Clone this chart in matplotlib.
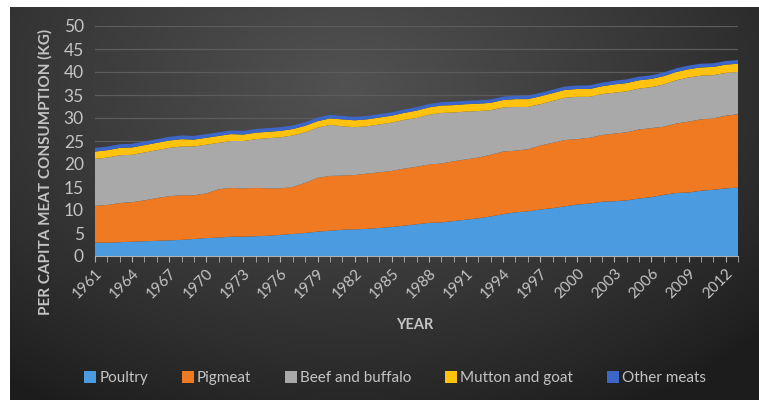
import numpy as np
import matplotlib.pyplot as plt
from matplotlib.patches import Patch

plt.rcParams['font.family'] = ['Lato', 'DejaVu Sans']

# Per capita meat consumption (kg), world, 1961-2013
years = list(range(1961, 2014))
poultry = [2.9, 2.9, 3.0, 3.1, 3.2, 3.3, 3.4, 3.5, 3.7, 3.9,
           4.0, 4.2, 4.2, 4.3, 4.4, 4.6, 4.8, 5.0, 5.3, 5.5,
           5.7, 5.8, 5.9, 6.1, 6.3, 6.6, 6.9, 7.2, 7.3, 7.6,
           7.9, 8.2, 8.6, 9.1, 9.5, 9.7, 10.1, 10.4, 10.8, 11.2,
           11.4, 11.8, 11.9, 12.1, 12.5, 12.8, 13.3, 13.7, 13.8, 14.2,
           14.4, 14.7, 14.9]
pigmeat = [8.0, 8.2, 8.5, 8.6, 8.9, 9.3, 9.6, 9.7, 9.5, 9.7,
           10.5, 10.6, 10.5, 10.5, 10.3, 10.1, 10.2, 10.9, 11.7, 11.9,
           11.8, 11.8, 12.0, 12.1, 12.2, 12.4, 12.5, 12.7, 12.8, 13.0,
           13.1, 13.2, 13.4, 13.6, 13.4, 13.5, 13.9, 14.2, 14.4, 14.2,
           14.3, 14.5, 14.7, 14.8, 15.0, 15.0, 14.8, 15.1, 15.4, 15.5,
           15.5, 15.8, 15.9]
beef = [10.2, 10.3, 10.4, 10.3, 10.4, 10.4, 10.5, 10.6, 10.6, 10.6,
        10.1, 10.2, 10.3, 10.6, 10.9, 11.1, 11.2, 11.0, 10.9, 11.1,
        10.7, 10.4, 10.3, 10.4, 10.5, 10.6, 10.6, 10.8, 11.0, 10.6,
        10.4, 10.1, 9.7, 9.6, 9.5, 9.2, 9.0, 9.1, 9.2, 9.2,
        8.9, 8.9, 8.9, 8.9, 8.9, 8.9, 9.2, 9.4, 9.6, 9.5,
        9.4, 9.3, 9.2]
mutton = [1.6, 1.6, 1.6, 1.6, 1.6, 1.6, 1.6, 1.6, 1.5, 1.5,
          1.5, 1.5, 1.4, 1.4, 1.4, 1.4, 1.4, 1.4, 1.4, 1.4,
          1.5, 1.5, 1.5, 1.5, 1.5, 1.5, 1.6, 1.6, 1.6, 1.6,
          1.6, 1.6, 1.6, 1.6, 1.7, 1.7, 1.7, 1.7, 1.7, 1.7,
          1.7, 1.7, 1.8, 1.8, 1.8, 1.8, 1.8, 1.8, 1.8, 1.8,
          1.8, 1.8, 1.8]
other = [0.8] * 20 + [0.75] * 20 + [0.8] * 13

labels = ['Poultry', 'Pigmeat', 'Beef and buffalo', 'Mutton and goat', 'Other meats']
colors = ['#4a9be0', '#f07a22', '#a9a9a9', '#ffc20e', '#3d66c9']
txt = '#c4c4c4'

fig = plt.figure(figsize=(7.59, 4.0), dpi=100)
fig.patch.set_facecolor('white')

# dark radial gradient background (white strip top and left)
bg = fig.add_axes([10 / 759, 0, 749 / 759, 393 / 400])
yy, xx = np.mgrid[0:1:200j, 0:1:380j]
r = np.sqrt(((xx - 0.45) / 0.75) ** 2 + ((yy - 0.8) / 0.95) ** 2)
v = np.clip(1 - r, 0, 1) ** 0.85
dark = np.array([0.11, 0.11, 0.11])
light = np.array([0.32, 0.32, 0.32])
img = dark + (light - dark) * v[..., None]
bg.imshow(img, extent=[0, 1, 0, 1], aspect='auto', origin='lower')
bg.axis('off')

ax = fig.add_axes([95 / 759, 1 - 256 / 400, 643 / 759, 230 / 400])
ax.patch.set_alpha(0)
ax.stackplot(years, poultry, pigmeat, beef, mutton, other,
             colors=colors, linewidth=0, zorder=2)

ax.set_xlim(1961, 2013)
ax.set_ylim(0, 50)
ax.set_yticks(range(0, 51, 5))
ax.set_xticks(years[:-1:3])
ax.set_xticks(years, minor=True)
ax.grid(axis='y', color='#5c5c5c', linewidth=0.9, zorder=0)
ax.set_axisbelow(True)

for s in ['top', 'right', 'left']:
    ax.spines[s].set_visible(False)
ax.spines['bottom'].set_color('#b0b0b0')
ax.spines['bottom'].set_zorder(3)

ax.tick_params(axis='y', length=0, labelsize=12.5, labelcolor=txt, pad=8)
ax.tick_params(axis='x', which='both', direction='out', length=4,
               color='#b0b0b0', labelsize=11, labelcolor=txt)
for lab in ax.get_xticklabels():
    lab.set_rotation(45)
    lab.set_ha('right')
    lab.set_rotation_mode('anchor')

ax.set_ylabel('PER CAPITA MEAT CONSUMPTION (KG)', fontsize=11,
              fontweight='bold', color=txt)
ax.yaxis.set_label_coords(-0.066, 0.365)
fig.text(415 / 759, 1 - 325 / 400, 'YEAR', fontsize=10.5, fontweight='bold',
         color=txt, ha='center', va='center')

handles = [Patch(facecolor=c, edgecolor='none') for c in colors]
fig.legend(handles, labels, loc='center', bbox_to_anchor=(395 / 759, 1 - 378 / 400),
           ncol=5, frameon=False, handlelength=0.8, handleheight=0.8,
           handletextpad=0.2, columnspacing=2.2, fontsize=11, labelcolor=txt)

fig.savefig('out.png', dpi=100, facecolor=fig.get_facecolor())
